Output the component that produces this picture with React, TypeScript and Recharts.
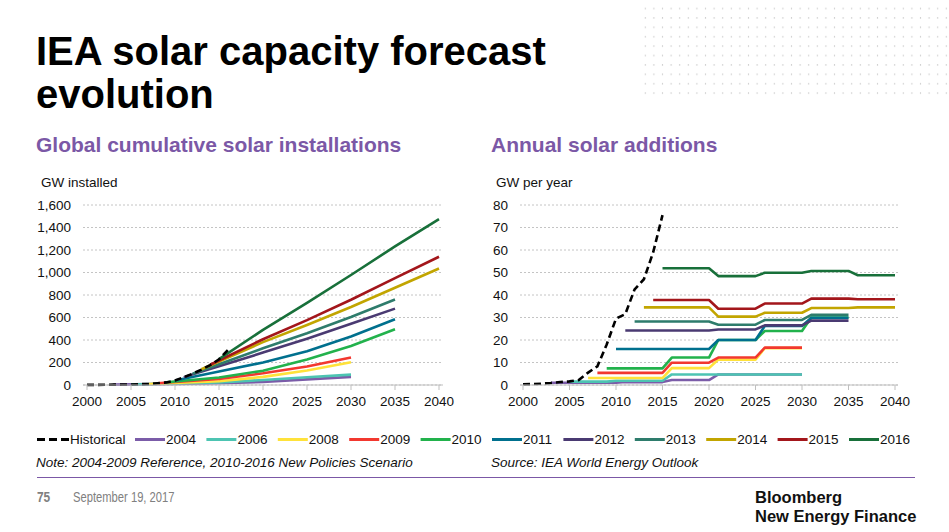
import React from 'react';
import { LineChart, Line, XAxis, YAxis, CartesianGrid } from 'recharts';

const n = null;

// Forecast vintages (WEO edition)
const SERIES = ['2004', '2006', '2008', '2009', '2010', '2011', '2012', '2013', '2014', '2015', '2016'];
const COLORS = ['#7B5CA8', '#4DC4B2', '#FFE23A', '#F2382F', '#22B24C', '#00708E', '#4A3A72', '#2E7C6C', '#C2A500', '#A3161B', '#18703A'];
const HIST_NAME = 'Historical';

// ---------- Left chart: cumulative GW ----------
const L_YEARS = [2000, 2001, 2002, 2003, 2004, 2005, 2006, 2007, 2008, 2009, 2010, 2011, 2012, 2013, 2014, 2015, 2016, 2020, 2025, 2030, 2035, 2040];
const L_HIST = [1, 1, 2, 3, 4, 5, 7, 9, 16, 23, 40, 70, 100, 137, 177, 228, 310, n, n, n, n, n];
const L_2004 = [n, n, n, 3, n, n, n, n, n, n, 10, n, n, n, n, 16, n, 27, 50, 72, n, n];
const L_2006 = [n, n, n, n, n, 5, n, n, n, n, 13, n, n, n, n, 22, n, 45, 69, 92, n, n];
const L_2008 = [n, n, n, n, n, n, n, 9, n, n, 18, n, n, n, n, 34, n, 72, 129, 203, n, n];
const L_2009 = [n, n, n, n, n, n, n, n, 16, n, 27, n, n, n, n, 54, n, 104, 164, 244, n, n];
const L_2010 = [n, n, n, n, n, n, n, n, n, 23, 31, n, n, n, n, 67, n, 127, 227, 347, 496, n];
const L_2011 = [n, n, n, n, n, n, n, n, n, n, 40, n, n, n, n, 120, n, 200, 300, 431, 585, n];
const L_2012 = [n, n, n, n, n, n, n, n, n, n, n, 70, n, n, n, 167, n, 288, 412, 545, 679, n];
const L_2013 = [n, n, n, n, n, n, n, n, n, n, n, n, 100, n, n, 185, n, 326, 460, 605, 760, n];
const L_2014 = [n, n, n, n, n, n, n, n, n, n, n, n, n, 140, n, 209, n, 381, 533, 693, 864, 1035];
const L_2015 = [n, n, n, n, n, n, n, n, n, n, n, n, n, n, 180, 218, n, 407, 577, 758, 950, 1140];
const L_2016 = [n, n, n, n, n, n, n, n, n, n, n, n, n, n, n, 230, n, 490, 730, 978, 1232, 1475];
const L_SERIES = [L_2004, L_2006, L_2008, L_2009, L_2010, L_2011, L_2012, L_2013, L_2014, L_2015, L_2016];
const L_TICKS = [0, 200, 400, 600, 800, 1000, 1200, 1400, 1600];

// ---------- Right chart: annual GW per year ----------
const R_YEARS = [2000, 2001, 2002, 2003, 2004, 2005, 2006, 2007, 2008, 2009, 2010, 2011, 2012, 2013, 2014, 2015, 2016, 2020, 2021, 2025, 2026, 2030, 2031, 2035, 2036, 2040];
const R_HIST = [0.3, 0.4, 0.6, 0.9, 1.3, 1.6, 2.2, 5.5, 8.3, 18, 29.5, 31.5, 42.5, 47, 59, 75.5, n, n, n, n, n, n, n, n, n, n];
const R_2004 = [n, n, n, 1.0, 1.0, 1.0, 1.0, 1.0, 1.0, 1.0, 1.0, 1.3, 1.3, 1.3, 1.3, 1.3, 2.2, 2.2, 4.7, 4.7, 4.7, 4.7, n, n, n, n];
const R_2006 = [n, n, n, n, n, 1.5, 1.5, 1.5, 1.5, 1.5, 1.9, 1.9, 1.9, 1.9, 1.9, 1.9, 4.7, 4.7, 4.7, 4.7, 4.7, 4.7, n, n, n, n];
const R_2008 = [n, n, n, n, n, n, n, 3.1, 3.1, 3.1, 3.1, 3.1, 3.1, 3.1, 3.1, 3.1, 7.5, 7.5, 11.3, 11.3, 16.4, 16.4, n, n, n, n];
const R_2009 = [n, n, n, n, n, n, n, n, 5.4, 5.4, 5.4, 5.4, 5.4, 5.4, 5.4, 5.4, 9.9, 9.9, 12.2, 12.2, 16.6, 16.6, n, n, n, n];
const R_2010 = [n, n, n, n, n, n, n, n, n, 7.4, 7.4, 7.4, 7.4, 7.4, 7.4, 7.4, 12.2, 12.2, 20, 20, 24, 24, 30, 30, n, n];
const R_2011 = [n, n, n, n, n, n, n, n, n, n, 16, 16, 16, 16, 16, 16, 16, 16, 20, 20, 26.2, 26.2, 29.9, 29.9, n, n];
const R_2012 = [n, n, n, n, n, n, n, n, n, n, n, 24.2, 24.2, 24.2, 24.2, 24.2, 24.2, 24.2, 24.7, 24.7, 26.5, 26.5, 28.6, 28.6, n, n];
const R_2013 = [n, n, n, n, n, n, n, n, n, n, n, n, 28.2, 28.2, 28.2, 28.2, 28.2, 28.2, 26.8, 26.8, 28.9, 28.9, 31.2, 31.2, n, n];
const R_2014 = [n, n, n, n, n, n, n, n, n, n, n, n, n, 34.5, 34.5, 34.5, 34.5, 34.5, 30.4, 30.4, 32.1, 32.1, 34.2, 34.2, 34.5, 34.5];
const R_2015 = [n, n, n, n, n, n, n, n, n, n, n, n, n, n, 37.8, 37.8, 37.8, 37.8, 33.9, 33.9, 36.2, 36.2, 38.4, 38.4, 38.1, 38.1];
const R_2016 = [n, n, n, n, n, n, n, n, n, n, n, n, n, n, n, 51.9, 51.9, 51.9, 48.4, 48.4, 49.9, 49.9, 50.7, 50.7, 48.8, 48.8];
const R_SERIES = [R_2004, R_2006, R_2008, R_2009, R_2010, R_2011, R_2012, R_2013, R_2014, R_2015, R_2016];
const R_TICKS = [0, 10, 20, 30, 40, 50, 60, 70, 80];

const X_TICKS = [2000, 2005, 2010, 2015, 2020, 2025, 2030, 2035, 2040];

function buildRows(years: number[], hist: (number | null)[], series: (number | null)[][]) {
  return years.map((year, i) => {
    const row: Record<string, number | null> = { year, [HIST_NAME]: hist[i] };
    SERIES.forEach((s, k) => { row['s' + s] = series[k][i]; });
    return row;
  });
}

const leftData = buildRows(L_YEARS, L_HIST, L_SERIES);
const rightData = buildRows(R_YEARS, R_HIST, R_SERIES);

const FONT = "'Liberation Sans', Arial, sans-serif";
const PURPLE = '#7B58A6';
const tickStyle = { fontSize: 13.5, fill: '#111', fontFamily: FONT };

const fmt = (v: number) => v.toLocaleString('en-US');

function renderLines() {
  const lines = SERIES.map((s, k) => (
    <Line key={s} type="linear" dataKey={'s' + s} stroke={COLORS[k]} strokeWidth={2.6}
      dot={false} connectNulls isAnimationActive={false} strokeLinejoin="round" />
  ));
  lines.push(
    <Line key="hist" type="linear" dataKey={HIST_NAME} stroke="#000" strokeWidth={2.6}
      strokeDasharray="7 4" dot={false} connectNulls isAnimationActive={false} />
  );
  return lines;
}

function Chart({ data, ticks, domain, padding, width, right, formatter }: any) {
  return (
    <LineChart width={width} height={225} data={data} margin={{ top: 15, right, left: 0, bottom: 0 }}>
      <CartesianGrid vertical={false} stroke="#c4c4c4" strokeDasharray="2 2" />
      <XAxis dataKey="year" type="number" domain={[2000, 2040]} ticks={X_TICKS} interval={0}
        padding={padding} height={30} axisLine={{ stroke: '#bfbfbf' }} tickLine={{ stroke: '#bfbfbf' }}
        tickSize={5} tickMargin={6} tick={tickStyle} />
      <YAxis type="number" domain={domain} ticks={ticks} width={83} axisLine={false} tickLine={false}
        tickSize={6} tickMargin={6} tick={tickStyle} tickFormatter={formatter} interval={0} />
      {renderLines()}
    </LineChart>
  );
}

const LEGEND_ITEMS = [HIST_NAME, ...SERIES];

function Legend() {
  return (
    <svg width={949} height={24} style={{ position: 'absolute', left: 0, top: 428 }}>
      {LEGEND_ITEMS.map((name, i) => {
        const isHist = i === 0;
        const x0 = isHist ? 37 : 135 + (i - 1) * 71.4;
        const len = isHist ? 32 : 30;
        return (
          <g key={name}>
            <line x1={x0} x2={x0 + len} y1={11.5} y2={11.5}
              stroke={isHist ? '#000' : COLORS[i - 1]} strokeWidth={3}
              strokeDasharray={isHist ? '8 4' : undefined} />
            <text x={x0 + len + 1} y={16} fontSize={13.5} fontFamily={FONT} fill="#111">{name}</text>
          </g>
        );
      })}
    </svg>
  );
}

function Dots() {
  return (
    <svg width={310} height={100} style={{ position: 'absolute', left: 641, top: 2 }}>
      <defs>
        <pattern id="dotp" width={8.6} height={9.4} patternUnits="userSpaceOnUse">
          <circle cx={4.3} cy={6.5} r={0.65} fill="#b5b5b5" />
        </pattern>
      </defs>
      <rect x={0} y={0} width={310} height={94} fill="url(#dotp)" />
    </svg>
  );
}

export default function App() {
  const abs = (l: number, t: number, extra: React.CSSProperties = {}): React.CSSProperties =>
    ({ position: 'absolute', left: l, top: t, whiteSpace: 'nowrap', ...extra });
  const narrow = (sx: number): React.CSSProperties => ({ transform: `scaleX(${sx})`, transformOrigin: 'left top' });
  return (
    <div style={{ position: 'absolute', left: 0, top: 0, width: 949, height: 532, background: '#fff', overflow: 'hidden', fontFamily: FONT }}>
      <Dots />
      <div style={abs(36, 30, { fontWeight: 700, fontSize: 40, lineHeight: '43px', color: '#000' })}>
        IEA solar capacity forecast<br />evolution
      </div>
      <div style={abs(36, 134, { fontWeight: 700, fontSize: 21, lineHeight: '21px', color: PURPLE })}>
        Global cumulative solar installations
      </div>
      <div style={abs(491, 134, { fontWeight: 700, fontSize: 21, lineHeight: '21px', color: PURPLE })}>
        Annual solar additions
      </div>
      <div style={abs(41, 175, { fontSize: 13.5, lineHeight: '16px', color: '#111' })}>GW installed</div>
      <div style={abs(496, 175, { fontSize: 13.5, lineHeight: '16px', color: '#111' })}>GW per year</div>

      <div style={abs(0, 190)}>
        <Chart data={leftData} ticks={L_TICKS} domain={[0, 1600]} padding={{ left: 4, right: 4 }}
          width={460} right={17} formatter={fmt} />
      </div>
      <div style={abs(437, 190)}>
        <Chart data={rightData} ticks={R_TICKS} domain={[0, 80]} padding={{ left: 3, right: 3 }}
          width={480} right={19} formatter={(v: number) => String(v)} />
      </div>

      <Legend />

      <div style={abs(36, 455, { fontSize: 13.5, lineHeight: '16px', fontStyle: 'italic', color: '#111' })}>
        Note: 2004-2009 Reference, 2010-2016 New Policies Scenario
      </div>
      <div style={abs(491, 455, { fontSize: 13.5, lineHeight: '16px', fontStyle: 'italic', color: '#111' })}>
        Source: IEA World Energy Outlook
      </div>

      <div style={abs(37, 477, { width: 878, height: 0, borderTop: `1.5px solid ${PURPLE}` })} />
      <div style={abs(37, 489, { fontWeight: 700, fontSize: 14, lineHeight: '16px', color: '#808080', ...narrow(0.85) })}>75</div>
      <div style={abs(73, 489, { fontSize: 14, lineHeight: '16px', color: '#808080', ...narrow(0.8) })}>September 19, 2017</div>
      <div style={abs(755, 488, { fontWeight: 700, fontSize: 16.5, lineHeight: '19px', color: '#111' })}>
        Bloomberg<br />New Energy Finance
      </div>
    </div>
  );
}
